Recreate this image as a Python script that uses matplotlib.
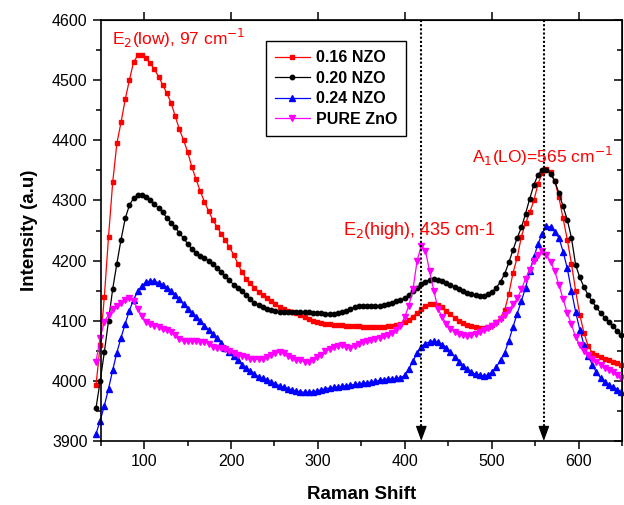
import numpy as np
import matplotlib
matplotlib.use('Agg')
import matplotlib.pyplot as plt

plt.rcParams['font.family'] = ['Liberation Sans', 'DejaVu Sans']

shift = np.round(44.6 + 4.8 * np.arange(127), 1)

nzo_016 = [3993, 4060, 4140, 4240, 4330, 4395, 4430, 4468, 4500, 4530,
           4541, 4542, 4536, 4528, 4518, 4506, 4492, 4478, 4462, 4440,
           4418, 4400, 4380, 4355, 4335, 4315, 4298, 4282, 4268, 4256,
           4245, 4234, 4222, 4210, 4195, 4181, 4170, 4162, 4155, 4148,
           4142, 4137, 4132, 4127, 4123, 4120, 4117, 4115, 4113, 4110,
           4106, 4103, 4100, 4098, 4096, 4095, 4094, 4093, 4093, 4093,
           4092, 4092, 4091, 4091, 4090, 4090, 4089, 4089, 4089, 4090,
           4091, 4092, 4093, 4095, 4098, 4102, 4107, 4113, 4120, 4124,
           4127, 4127, 4126, 4123, 4117, 4111, 4105, 4100, 4097, 4093,
           4091, 4089, 4088, 4088, 4090, 4093, 4098, 4105, 4118, 4145,
           4180, 4205, 4240, 4262, 4280, 4300, 4328, 4345, 4352, 4348,
           4333, 4305, 4270, 4235, 4195, 4150, 4110, 4080, 4058, 4047,
           4043, 4040, 4037, 4035, 4032, 4029, 4026]

nzo_020 = [3955, 4000, 4048, 4100, 4153, 4195, 4235, 4270, 4292, 4304,
           4309, 4309, 4305, 4300, 4294, 4287, 4280, 4271, 4263, 4255,
           4246, 4237, 4228, 4219, 4213, 4208, 4204, 4200, 4194, 4188,
           4181, 4174, 4167, 4160, 4154, 4149, 4143, 4136, 4130, 4126,
           4122, 4120, 4118, 4116, 4115, 4115, 4115, 4115, 4115, 4114,
           4114, 4114, 4113, 4113, 4113, 4112, 4112, 4112, 4113, 4114,
           4117, 4120, 4122, 4124, 4125, 4125, 4124, 4124, 4124, 4126,
           4128, 4130, 4132, 4134, 4138, 4143, 4149, 4155, 4161, 4165,
           4168, 4169, 4168, 4166, 4163, 4160, 4156, 4152, 4149, 4146,
           4144, 4142, 4141, 4141, 4144, 4148, 4155, 4165, 4178, 4197,
           4218, 4238, 4255, 4278, 4303, 4326, 4343, 4351, 4351, 4344,
           4332, 4312, 4290, 4268, 4238, 4193, 4172, 4156, 4143, 4132,
           4122, 4113, 4105, 4098, 4091, 4083, 4077]

nzo_024 = [3912, 3934, 3959, 3987, 4018, 4047, 4072, 4095, 4117, 4135,
           4149, 4158, 4164, 4166, 4166, 4163, 4159, 4155, 4150, 4143,
           4136, 4127, 4120, 4113, 4106, 4099, 4092, 4085, 4078, 4071,
           4063, 4055, 4048, 4041, 4034, 4027, 4021, 4016, 4011, 4007,
           4004, 4001, 3998, 3995, 3992, 3989, 3987, 3985, 3983, 3982,
           3981, 3981, 3982, 3983, 3985, 3987, 3988, 3989, 3990, 3991,
           3992, 3993, 3994, 3995, 3996, 3997, 3998, 3999, 4001, 4002,
           4003, 4003, 4004, 4005, 4009, 4020, 4033, 4046, 4057, 4062,
           4065, 4066, 4064, 4060, 4055, 4048, 4040, 4032, 4025, 4019,
           4015, 4011, 4009, 4008, 4010, 4015, 4023, 4035, 4047, 4067,
           4090, 4112, 4133, 4155, 4183, 4206, 4228, 4245, 4257, 4256,
           4248, 4238, 4215, 4187, 4150, 4115, 4085, 4060, 4042, 4027,
           4014, 4005, 3998, 3993, 3989, 3985, 3981]

pure_zno = [4032, 4072, 4098, 4110, 4119, 4125, 4130, 4134, 4137, 4132,
            4120, 4108, 4098, 4094, 4092, 4090, 4087, 4085, 4082, 4076,
            4070, 4067, 4066, 4066, 4066, 4065, 4065, 4062, 4057, 4055,
            4054, 4053, 4050, 4046, 4043, 4042, 4040, 4037, 4036, 4036,
            4036, 4039, 4043, 4046, 4048, 4046, 4042, 4038, 4035, 4034,
            4032, 4032, 4035, 4039, 4043, 4049, 4053, 4056, 4058, 4059,
            4057, 4055, 4058, 4062, 4064, 4066, 4068, 4070, 4072, 4074,
            4076, 4079, 4084, 4092, 4106, 4125, 4152, 4200, 4225, 4216,
            4182, 4150, 4120, 4106, 4095, 4087, 4082, 4078, 4076, 4075,
            4076, 4078, 4081, 4084, 4088, 4092, 4097, 4103, 4110, 4118,
            4127, 4137, 4152, 4170, 4185, 4200, 4210, 4216, 4210, 4198,
            4182, 4160, 4136, 4113, 4094, 4073, 4060, 4050, 4043, 4037,
            4032, 4027, 4022, 4018, 4014, 4010, 4005]

labels = ['0.16 NZO', '0.20 NZO', '0.24 NZO', 'PURE ZnO']
peak_lines = [419, 560]

fig = plt.figure(figsize=(6.24, 5.05), dpi=100)
ax = fig.add_axes([0.1614, 0.1267, 0.8354, 0.8337])

ax.plot(shift, nzo_016, color='red', marker='s', ms=3.3, lw=0.9, label=labels[0], clip_on=False)
ax.plot(shift, nzo_020, color='black', marker='o', ms=3.2, lw=0.9, label=labels[1], clip_on=False)
ax.plot(shift, nzo_024, color='blue', marker='^', ms=3.9, lw=0.9, label=labels[2], clip_on=False)
ax.plot(shift, pure_zno, color='magenta', marker='v', ms=3.9, lw=0.9, label=labels[3], clip_on=False)

# dotted guide lines with arrow heads
for xp in peak_lines:
    ax.plot([xp, xp], [4600, 3920], color='black', ls=(0, (1, 1)), lw=1.5)
    ax.annotate('', xy=(xp, 3900), xytext=(xp, 3925),
                arrowprops=dict(arrowstyle='-|>,head_length=0.6,head_width=0.22',
                                color='black', lw=1, mutation_scale=15,
                                shrinkA=0, shrinkB=0))

ax.text(63, 4559, r'E$_2$(low), 97 cm$^{-1}$', color='red', fontsize=12.5)
ax.text(477, 4362, r'A$_1$(LO)=565 cm$^{-1}$', color='red', fontsize=12.5)
ax.text(329, 4243, 'E$_2$(high), 435 cm-1', color='red', fontsize=13)

ax.set_xlim(50, 650)
ax.set_ylim(3900, 4600)
ax.set_xticks([100, 200, 300, 400, 500, 600])
ax.set_xticks(np.arange(50, 651, 50), minor=True)
ax.set_yticks(np.arange(3900, 4601, 100))
ax.set_yticks(np.arange(3900, 4601, 50), minor=True)
ax.tick_params(which='major', direction='out', length=6, width=1.1, labelsize=11.5)
ax.tick_params(which='minor', direction='out', length=3.5, width=1.1)

for s in ax.spines.values():
    s.set_linewidth(1.2)

top = ax.secondary_xaxis('top')
top.set_xticks([100, 200, 300, 400, 500, 600])
top.set_xticklabels([])
top.tick_params(direction='out', length=6, width=1.1)
right = ax.secondary_yaxis('right')
right.set_yticks(np.arange(3900, 4601, 100))
right.set_yticks(np.arange(3900, 4601, 50), minor=True)
right.set_yticklabels([])
right.tick_params(which='major', direction='in', length=6, width=1.1)
right.tick_params(which='minor', direction='in', length=3.5, width=1.1)

ax.set_xlabel('Raman Shift', fontsize=13.5, fontweight='bold', labelpad=12)
ax.set_ylabel('Intensity (a.u)', fontsize=13.5, fontweight='bold', labelpad=10)

leg = ax.legend(loc='upper left', bbox_to_anchor=(0.317, 0.949), borderaxespad=0,
                fancybox=False, edgecolor='black', framealpha=1, handlelength=2.2,
                numpoints=1, prop={'weight': 'bold', 'size': 11.5}, borderpad=0.55,
                labelspacing=0.35, handletextpad=0.4)
leg.get_frame().set_linewidth(1.0)

fig.savefig('out.png', dpi=100)
